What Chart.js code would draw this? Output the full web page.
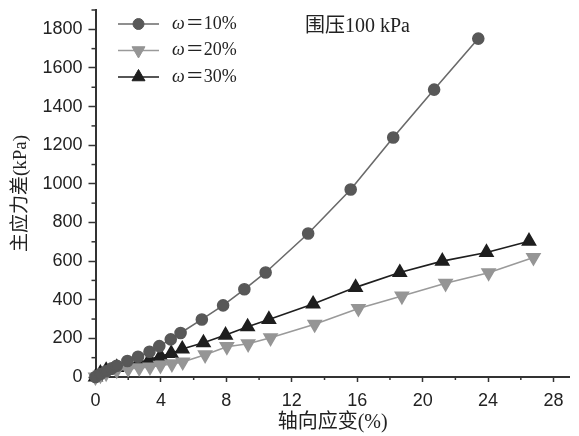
<!DOCTYPE html>
<html><head><meta charset="utf-8">
<script src="https://cdn.jsdelivr.net/npm/chart.js@4/dist/chart.umd.min.js"></script>
<style>html,body{margin:0;padding:0;background:#fff}#wrap{width:579px;height:436px}</style>
</head><body><div id="wrap"><canvas id="c" width="579" height="436"></canvas></div>
<script>
const seriesLabels = ['ω＝10%', 'ω＝20%', 'ω＝30%'];
const strain10 = [0, 0.3, 0.65, 1.0, 1.3, 1.95, 2.6, 3.3, 3.9, 4.6, 5.2, 6.5, 7.8, 9.1, 10.4, 13.0, 15.6, 18.2, 20.7, 23.4];
const stress10 = [0, 15, 30, 45, 58, 83, 105, 131, 160, 195, 228, 298, 371, 454, 541, 743, 971, 1240, 1488, 1752];
const strain20 = [0, 0.3, 0.65, 1.3, 2.0, 2.67, 3.33, 3.97, 4.67, 5.33, 6.7, 8.03, 9.33, 10.7, 13.4, 16.07, 18.73, 21.4, 24.03, 26.77];
const stress20 = [0, 10, 20, 35, 42, 47, 52, 60, 68, 78, 115, 157, 172, 203, 273, 355, 419, 485, 540, 619];
const strain30 = [0, 0.3, 0.65, 1.3, 1.97, 2.63, 3.3, 3.97, 4.63, 5.3, 6.6, 7.95, 9.3, 10.6, 13.3, 15.9, 18.6, 21.2, 23.9, 26.5];
const stress30 = [0, 20, 35, 50, 65, 75, 90, 108, 122, 145, 177, 217, 260, 298, 378, 464, 541, 600, 645, 703];
const xTitle = '轴向应变(%)';
const yTitle = '主应力差(kPa)';
const noteText = '围压100 kPa';

const pts = (xs, ys) => xs.map((x, i) => ({x, y: ys[i]}));
const tickFont = {family: '"Liberation Sans", Arial, sans-serif', size: 18};
const titleFamily = '"Liberation Serif", "Noto Sans CJK SC", serif';
const axisColor = '#333';

const minorTicks = {
  id: 'minorTicks',
  afterDraw(chart) {
    const ctx = chart.ctx, xs = chart.scales.x, ys = chart.scales.y;
    ctx.save();
    ctx.strokeStyle = axisColor; ctx.lineWidth = 1.5;
    for (let v = 2; v <= 28; v += 4) {
      const p = xs.getPixelForValue(v);
      ctx.beginPath(); ctx.moveTo(p, ys.bottom); ctx.lineTo(p, ys.bottom + 3); ctx.stroke();
    }
    for (let v = 100; v <= 1900; v += 200) {
      const p = ys.getPixelForValue(v);
      ctx.beginPath(); ctx.moveTo(xs.left - 4, p); ctx.lineTo(xs.left, p); ctx.stroke();
    }
    ctx.restore();
  }
};

const innerLegend = {
  id: 'innerLegend',
  afterDraw(chart) {
    const ctx = chart.ctx;
    ctx.save();
    chart.data.datasets.forEach((ds, i) => {
      const y = 24 + i * 26.5;
      ctx.strokeStyle = ds.borderColor; ctx.lineWidth = ds.borderWidth;
      ctx.beginPath(); ctx.moveTo(118, y); ctx.lineTo(159, y); ctx.stroke();
      ctx.fillStyle = ds.pointBackgroundColor; ctx.strokeStyle = ds.pointBorderColor; ctx.lineWidth = 1;
      Chart.helpers.drawPoint(ctx, {pointStyle: ds.pointStyle, rotation: ds.pointRotation || 0, radius: ds.pointRadius, borderWidth: 1}, 138.5, y);
      ctx.fillStyle = '#222'; ctx.textBaseline = 'middle'; ctx.textAlign = 'left';
      ctx.font = 'italic 18px "Liberation Serif", serif';
      const first = ds.label.charAt(0);
      ctx.fillText(first, 172, y);
      const w = ctx.measureText(first).width;
      ctx.font = '18px "Liberation Serif", "Noto Sans CJK SC", serif';
      ctx.fillText(ds.label.slice(1), 172 + w + 1, y);
    });
    ctx.font = '20px ' + titleFamily;
    ctx.fillStyle = '#222'; ctx.textBaseline = 'middle';
    ctx.fillText(noteText, 305, 27);
    ctx.restore();
  }
};

new Chart(document.getElementById('c'), {
  type: 'line',
  data: {
    datasets: [
      {label: seriesLabels[0], data: pts(strain10, stress10), borderColor: '#6a6a6a', borderWidth: 1.6,
       pointStyle: 'circle', pointRadius: 5.5, pointBackgroundColor: '#585858', pointBorderColor: '#585858', clip: false},
      {label: seriesLabels[1], data: pts(strain20, stress20), borderColor: '#9a9a9a', borderWidth: 1.6,
       pointStyle: 'triangle', pointRotation: 180, pointRadius: 7.5, pointBackgroundColor: '#959595', pointBorderColor: '#959595', clip: false},
      {label: seriesLabels[2], data: pts(strain30, stress30), borderColor: '#1e1e1e', borderWidth: 1.6,
       pointStyle: 'triangle', pointRadius: 7.5, pointBackgroundColor: '#1e1e1e', pointBorderColor: '#1e1e1e', clip: false}
    ]
  },
  options: {
    responsive: false, animation: false, devicePixelRatio: 1,
    layout: {padding: {top: 10, right: 0, left: 0, bottom: 0}},
    plugins: {legend: {display: false}, tooltip: {enabled: false}},
    elements: {line: {tension: 0}},
    scales: {
      x: {
        type: 'linear', min: 0, max: 29,
        ticks: {stepSize: 2, includeBounds: false, autoSkip: false, maxRotation: 0, padding: 8, color: '#222', font: tickFont,
          callback: v => (v % 4 === 0 ? String(v) : '')},
        grid: {display: true, drawOnChartArea: false, drawTicks: true, tickLength: 5, tickWidth: 1.5,
          tickColor: c => (c.tick && c.tick.value % 4 === 0 ? axisColor : 'rgba(0,0,0,0)')},
        border: {display: true, color: axisColor, width: 2},
        title: {display: true, text: xTitle, color: '#222', padding: {top: 0, bottom: 1},
          font: {family: titleFamily, size: 20}},
        afterFit: s => { s.height = 59; s.paddingLeft = 0; s.paddingRight = 0; }
      },
      y: {
        type: 'linear', min: 0, max: 1900,
        ticks: {stepSize: 100, includeBounds: false, autoSkip: false, padding: 6, color: '#222', font: tickFont,
          callback: v => (v % 200 === 0 ? String(v) : '')},
        grid: {display: true, drawOnChartArea: false, drawTicks: true, tickLength: 7, tickWidth: 1.5,
          tickColor: c => (c.tick && c.tick.value % 200 === 0 ? axisColor : 'rgba(0,0,0,0)')},
        border: {display: true, color: axisColor, width: 2},
        title: {display: true, text: yTitle, color: '#222', padding: {top: 10, bottom: 0},
          font: {family: titleFamily, size: 19}},
        afterFit: s => { s.width = 95.5; s.paddingTop = 0; s.paddingBottom = 0; }
      }
    }
  },
  plugins: [minorTicks, innerLegend]
});
</script>
</body></html>
